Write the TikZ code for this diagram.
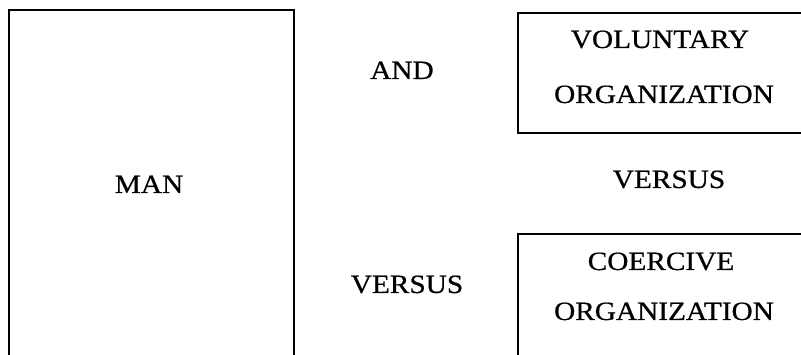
\documentclass[tikz,border=0pt]{standalone}
\usepackage{fontspec}
\setmainfont[FakeBold=0.6,FakeStretch=1.11]{Liberation Serif}
\begin{document}
\begin{tikzpicture}[x=1pt,y=-1pt,
  frame/.style={line width=2.6pt,line join=miter},
  lbl/.style={font=\fontsize{26.4}{30}\selectfont,inner sep=0pt,anchor=base}]
\useasboundingbox (0,0) rectangle (801,355);
\coordinate (l1) at (9,357);
\coordinate (l2) at (9,10);
\coordinate (l3) at (294,10);
\coordinate (l4) at (294,357);
\draw[frame] (l1) -- (l2) -- (l3) -- (l4);
\coordinate (t1) at (803,13);
\coordinate (t2) at (518,13);
\coordinate (t3) at (518,133);
\coordinate (t4) at (803,133);
\draw[frame] (t1) -- (t2) -- (t3) -- (t4);
\coordinate (b1) at (803,234);
\coordinate (b2) at (518,234);
\coordinate (b3) at (518,357);
\draw[frame] (b1) -- (b2) -- (b3);
\node[lbl] (man) at (149,193) {MAN};
\node[lbl] (and) at (402,79) {AND};
\node[lbl] (vs1) at (407,293) {VERSUS};
\node[lbl] (vs2) at (669,188) {VERSUS};
\node[lbl] (vol) at (660,48) {VOLUNTARY};
\node[lbl] (org1) at (664,103) {ORGANIZATION};
\node[lbl] (coe) at (661,270) {COERCIVE};
\node[lbl] (org2) at (664,320) {ORGANIZATION};
\end{tikzpicture}
\end{document}
